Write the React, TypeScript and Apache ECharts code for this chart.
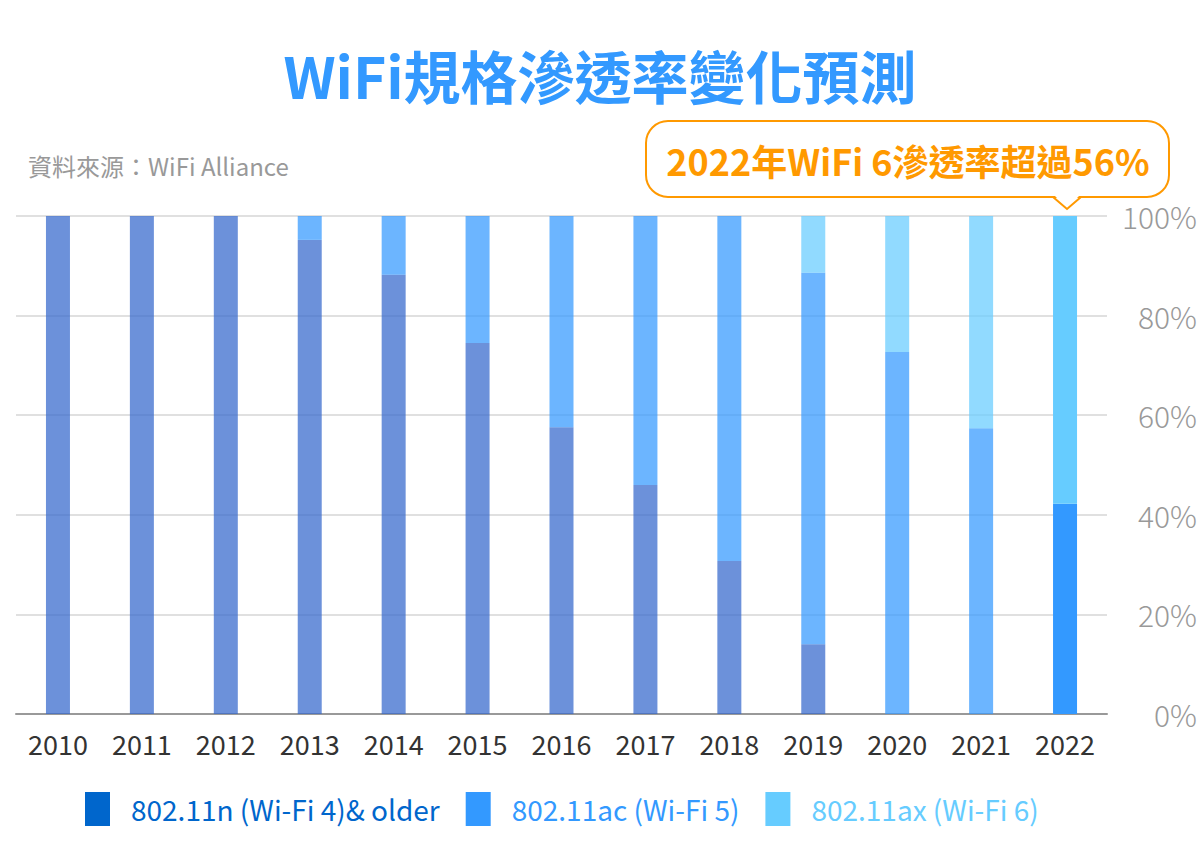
import React, { useEffect, useRef } from "react";
import * as echarts from "echarts";

const years = ["2010", "2011", "2012", "2013", "2014", "2015", "2016", "2017", "2018", "2019", "2020", "2021", "2022"];
const wifi4 = [100, 100, 100, 95.2, 88.2, 74.5, 57.6, 46, 30.7, 14, 0, 0, 0];
const wifi5 = [0, 0, 0, 4.8, 11.8, 25.5, 42.4, 54, 69.3, 74.6, 72.7, 57.4, 42.2];
const wifi6 = [0, 0, 0, 0, 0, 0, 0, 0, 0, 11.4, 27.3, 42.6, 57.8];
const seriesNames = ["802.11n (Wi-Fi 4)& older", "802.11ac (Wi-Fi 5)", "802.11ax (Wi-Fi 6)"];
const barColors = ["#3366CC", "#3399FF", "#66CCFF"];
const legendColors = ["#0066CC", "#3399FF", "#66CCFF"];
const yTicks = [0, 20, 40, 60, 80, 100];

const FONT = "'Noto Sans CJK TC', 'Noto Sans', sans-serif";

export default function App() {
  const ref = useRef<HTMLDivElement>(null);
  useEffect(() => {
    if (!ref.current) return;
    const chart = echarts.init(ref.current, null, { renderer: "svg" });
    const lastIdx = years.length - 1;
    const mk = (vals: number[], i: number) => ({
      name: seriesNames[i],
      type: "bar",
      stack: "total",
      barWidth: 24,
      itemStyle: { color: barColors[i], opacity: 0.72 },
      data: vals.map((v, k) =>
        k === lastIdx
          ? { value: v, itemStyle: { color: legendColors[i], opacity: 1 } }
          : v
      ),
    });
    chart.setOption({
      animation: false,
      textStyle: { fontFamily: FONT },
      grid: { left: 16, right: 92, top: 216, bottom: 138 },
      title: {
        text: "WiFi規格滲透率變化預測",
        left: "center",
        top: 40,
        textStyle: { fontFamily: FONT, fontSize: 57, fontWeight: "bold", color: "#3399FF" },
      },
      legend: {
        left: 80,
        top: 787,
        icon: "rect",
        itemWidth: 25,
        itemHeight: 34,
        itemGap: 26,
        data: seriesNames.map((n, i) => ({
          name: n,
          itemStyle: { color: legendColors[i], opacity: 1 },
          textStyle: { color: legendColors[i], fontSize: 28, fontFamily: FONT, padding: [0, 0, 0, 16] },
        })),
      },
      xAxis: {
        type: "category",
        data: years,
        axisLine: { lineStyle: { color: "#999", width: 2 } },
        axisTick: { show: false },
        axisLabel: { color: "#333", fontSize: 27, margin: 16, fontFamily: FONT },
      },
      yAxis: {
        type: "value",
        position: "right",
        min: yTicks[0],
        max: yTicks[yTicks.length - 1],
        interval: 20,
        axisLine: { show: false },
        axisTick: { show: false },
        splitLine: { lineStyle: { color: "#e0e0e0", width: 2 } },
        axisLabel: {
          formatter: "{value}%",
          color: "#999",
          fontSize: 30,
          align: "right",
          margin: 90,
          fontFamily: FONT,
          fontWeight: 300,
        },
      },
      series: [mk(wifi4, 0), mk(wifi5, 1), mk(wifi6, 2)],
      graphic: [
        {
          type: "text",
          left: 28,
          top: 153,
          style: { text: "資料來源：WiFi Alliance", fill: "#999", fontSize: 24, fontFamily: FONT },
        },
        {
          type: "rect",
          shape: { x: 646, y: 121, width: 523, height: 76, r: 22 },
          style: { fill: "#fff", stroke: "#FF9900", lineWidth: 2 },
          z: 10,
        },
        {
          type: "polygon",
          shape: { points: [[1054, 195], [1080, 195], [1067, 208]] },
          style: { fill: "#fff" },
          z: 11,
        },
        {
          type: "polyline",
          shape: { points: [[1053, 197], [1067, 209], [1081, 197]] },
          style: { stroke: "#FF9900", lineWidth: 2, fill: null },
          z: 12,
        },
        {
          type: "text",
          x: 908,
          y: 160,
          style: {
            text: "2022年WiFi 6滲透率超過56%",
            fill: "#FF9900",
            fontSize: 36,
            fontWeight: "bold",
            fontFamily: FONT,
            align: "center",
            verticalAlign: "middle",
          },
          z: 13,
        },
      ],
    });
    return () => chart.dispose();
  }, []);
  return (
    <div
      ref={ref}
      style={{ position: "fixed", left: 0, top: 0, width: 1200, height: 852, background: "#fff" }}
    />
  );
}
